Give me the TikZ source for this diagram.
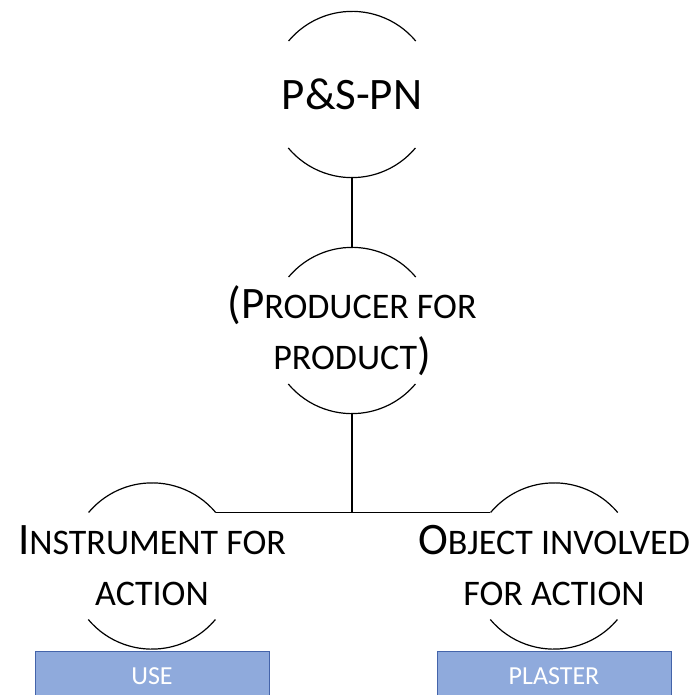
\documentclass[tikz,border=0pt]{standalone}
\usepackage{fontspec}
\setmainfont{Carlito}
\usepackage{tikz}
\usetikzlibrary{positioning}
\definecolor{boxfill}{RGB}{143,170,220}
\definecolor{boxline}{RGB}{68,100,170}
\newcommand{\smc}[1]{{\fontsize{36}{51}\selectfont #1}}

\begin{document}
\begin{tikzpicture}
    [
    x=1pt, y=1pt,
    ring/.style={circle,inner sep=0pt,minimum size=166pt},
    role/.style={align=center,font=\fontsize{45}{51}\selectfont},
    leaf/.style={draw=boxline,fill=boxfill,text=white,line width=1pt,
      minimum width=234pt,minimum height=48pt,font=\fontsize{26}{30}\selectfont},
    ]
    \useasboundingbox (0,0) rectangle (695,694);
    \node (pn) at (352,599.5) [ring] {};
    \node (prod) at (352,363.5) [ring] {};
    \node (instr) at (152,128) [ring] {};
    \node (obj) at (554,128) [ring] {};

    \node (pntext) at (pn) [role] {P\&S-PN};
    \node (prodtext) at (prod) [role] {(P\smc{RODUCER FOR}\\\smc{PRODUCT})};
    \node (instrtext) at (instr) [role] {I\smc{NSTRUMENT FOR}\\\smc{ACTION}};
    \node (objtext) at (obj) [role] {O\smc{BJECT INVOLVED}\\\smc{FOR ACTION}};

    \foreach \n in {pn,prod,instr,obj}
    {
      \draw [line width=1.2pt] (\n.40) arc (40:140:83pt);
      \draw [line width=1.2pt] (\n.220) arc (220:320:83pt);
    }

    \draw [line width=1.2pt] (pn.south) to (prod.north);
    \draw [line width=1.2pt] (prod.south) to (prod.south |- instr.40);
    \draw [line width=1.2pt] (instr.40) to (obj.140);

    \node (use) [leaf, below=2pt of instr] {USE};
    \node (plaster) [leaf, below=2pt of obj] {PLASTER};
  \end{tikzpicture}
\end{document}
